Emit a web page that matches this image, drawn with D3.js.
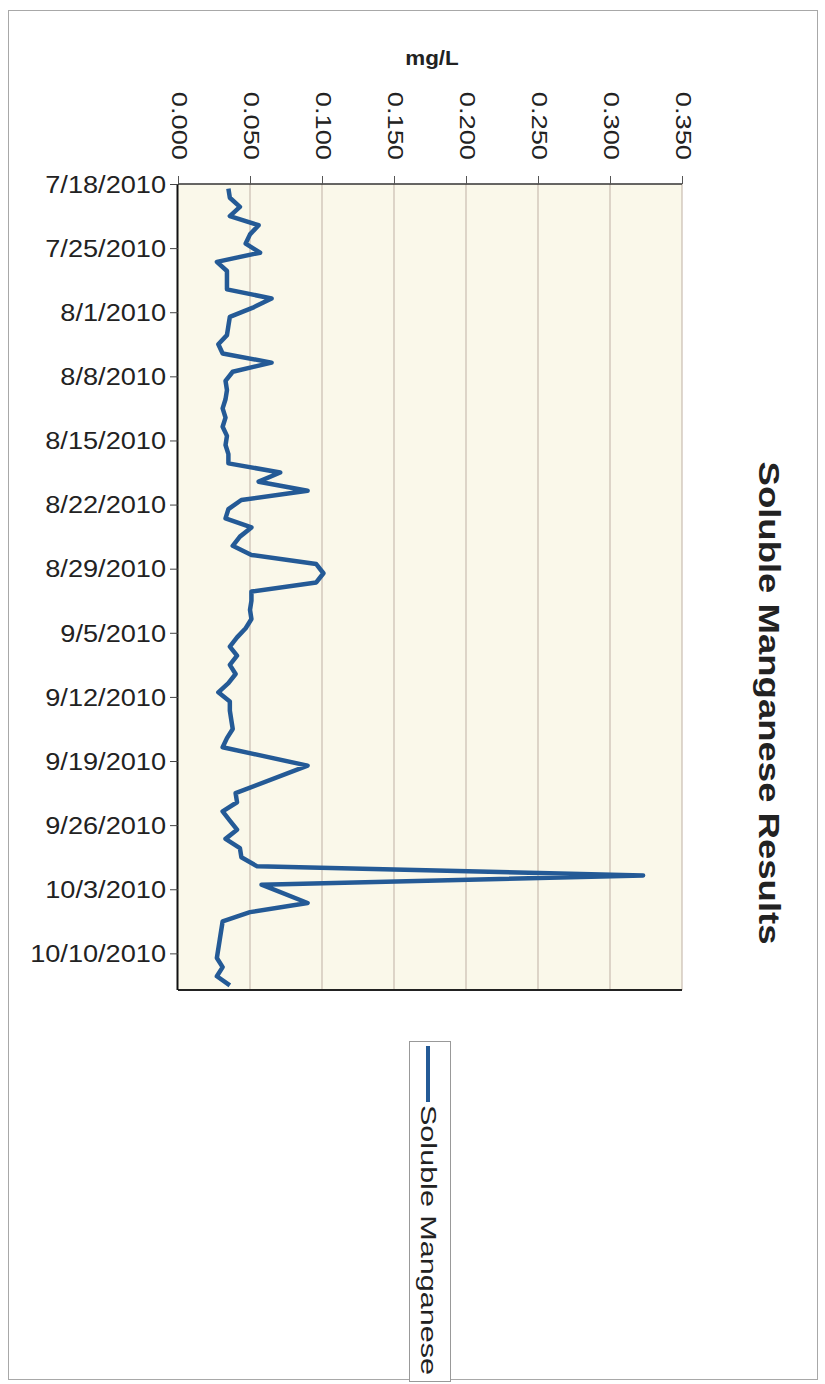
<!DOCTYPE html>
<html>
<head>
<meta charset="utf-8">
<script src="https://cdn.jsdelivr.net/npm/d3@7"></script>
<style>
  html, body { margin: 0; padding: 0; background: #ffffff; }
  svg { display: block; font-family: "Liberation Sans", Arial, sans-serif; }
</style>
</head>
<body>
<svg id="chart" width="825" height="1384"></svg>
<script>
// ---- data ----
const title = "Soluble Manganese Results";
const valueAxisTitle = "mg/L";
const seriesName = "Soluble Manganese";
const dates = [
  "2010-07-18","2010-07-19","2010-07-20","2010-07-21","2010-07-22","2010-07-23","2010-07-24","2010-07-25",
  "2010-07-26","2010-07-27","2010-07-28","2010-07-29","2010-07-30","2010-07-31","2010-08-01","2010-08-02",
  "2010-08-03","2010-08-04","2010-08-05","2010-08-06","2010-08-07","2010-08-08","2010-08-09","2010-08-10",
  "2010-08-11","2010-08-12","2010-08-13","2010-08-14","2010-08-15","2010-08-16","2010-08-17","2010-08-18",
  "2010-08-19","2010-08-20","2010-08-21","2010-08-22","2010-08-23","2010-08-24","2010-08-25","2010-08-26",
  "2010-08-27","2010-08-28","2010-08-29","2010-08-30","2010-08-31","2010-09-01","2010-09-02","2010-09-03",
  "2010-09-04","2010-09-05","2010-09-06","2010-09-07","2010-09-08","2010-09-09","2010-09-10","2010-09-11",
  "2010-09-12","2010-09-13","2010-09-14","2010-09-15","2010-09-16","2010-09-17","2010-09-19","2010-09-22",
  "2010-09-23","2010-09-24","2010-09-25","2010-09-26","2010-09-27","2010-09-28","2010-09-29","2010-09-30",
  "2010-10-01","2010-10-02","2010-10-04","2010-10-05","2010-10-06","2010-10-08","2010-10-10","2010-10-11",
  "2010-10-12","2010-10-13"
];
const values = [
  0.035,0.036,0.043,0.036,0.056,0.050,0.047,0.057,
  0.027,0.034,0.034,0.034,0.065,0.052,0.036,0.035,
  0.034,0.028,0.031,0.065,0.038,0.033,0.034,0.033,
  0.031,0.033,0.031,0.034,0.033,0.035,0.035,0.071,
  0.056,0.090,0.044,0.035,0.033,0.051,0.043,0.038,
  0.051,0.096,0.101,0.096,0.051,0.051,0.050,0.051,
  0.047,0.041,0.036,0.041,0.036,0.040,0.035,0.028,
  0.036,0.036,0.037,0.038,0.034,0.031,0.090,0.040,
  0.041,0.031,0.036,0.041,0.033,0.043,0.044,0.055,
  0.323,0.058,0.090,0.050,0.031,0.029,0.027,0.031,
  0.027,0.036
];
const valueTicks = [0, 0.05, 0.10, 0.15, 0.20, 0.25, 0.30, 0.35];
const dateTicks = ["2010-07-18","2010-07-25","2010-08-01","2010-08-08","2010-08-15","2010-08-22",
  "2010-08-29","2010-09-05","2010-09-12","2010-09-19","2010-09-26","2010-10-03","2010-10-10"];
const dateDomain = ["2010-07-18","2010-10-14"];

// ---- layout ----
const svg = d3.select("#chart");
const plot = {left: 178, right: 682, top: 184, bottom: 990};
const parse = d3.timeParse("%Y-%m-%d");
const x = d3.scaleLinear().domain([0, 0.35]).range([plot.left, plot.right]);
const y = d3.scaleTime().domain(dateDomain.map(parse)).range([plot.top, plot.bottom]);
const lineColor = "#245a96";

// outer chart border
svg.append("rect").attr("x", 8.5).attr("y", 10.5).attr("width", 809).attr("height", 1369)
  .attr("fill", "#fff").attr("stroke", "#a8a8a8").attr("stroke-width", 1);

// plot area
svg.append("rect").attr("x", plot.left).attr("y", plot.top)
  .attr("width", plot.right - plot.left).attr("height", plot.bottom - plot.top)
  .attr("fill", "#faf8ea");

// gridlines
svg.append("g").selectAll("line").data(valueTicks.slice(1)).join("line")
  .attr("x1", d => x(d)).attr("x2", d => x(d))
  .attr("y1", plot.top).attr("y2", plot.bottom)
  .attr("stroke", "#c9bcb0").attr("stroke-width", 1.2);

// plot border (top/bottom dark)
svg.append("line").attr("x1", plot.left).attr("x2", plot.right).attr("y1", plot.top).attr("y2", plot.top)
  .attr("stroke", "#333").attr("stroke-width", 1.5);
svg.append("line").attr("x1", plot.left).attr("x2", plot.right).attr("y1", plot.bottom).attr("y2", plot.bottom)
  .attr("stroke", "#222").attr("stroke-width", 2);

// value axis on top
const xAxis = d3.axisTop(x).tickValues(valueTicks).tickFormat(d3.format(".3f")).tickSize(8).tickPadding(0);
const gx = svg.append("g").attr("transform", `translate(0,${plot.top})`).call(xAxis);
gx.select(".domain").remove();
gx.selectAll(".tick line").attr("stroke", "#555");
gx.selectAll(".tick text")
  .attr("font-size", 22).attr("fill", "#222")
  .attr("text-anchor", "end").attr("dominant-baseline", "central")
  .attr("transform", "translate(1,-24) rotate(90)")
  .attr("x", 0).attr("y", 0).attr("dy", null)
  .each(function() { const l = this.getComputedTextLength(); this.setAttribute("textLength", l * 1.24); this.setAttribute("lengthAdjust", "spacingAndGlyphs"); });

// date axis on left
const yAxis = d3.axisLeft(y).tickValues(dateTicks.map(parse)).tickFormat(d3.timeFormat("%-m/%-d/%Y")).tickSize(8).tickPadding(4);
const gy = svg.append("g").attr("transform", `translate(${plot.left},0)`).call(yAxis);
gy.select(".domain").attr("stroke", "#111").attr("stroke-width", 2).attr("d", `M-0.5,${plot.top}V${plot.bottom}`);
gy.selectAll(".tick line").attr("stroke", "#444");
gy.selectAll(".tick text")
  .attr("font-size", 23).attr("fill", "#222").attr("dy", "0.36em")
  .each(function() { const l = this.getComputedTextLength(); this.setAttribute("textLength", l * 1.18); this.setAttribute("lengthAdjust", "spacingAndGlyphs"); });

// data line (points centred in each day's interval)
const pts = dates.map((d, i) => ({date: d3.timeHour.offset(parse(d), 12), v: values[i]}));
svg.append("path").datum(pts)
  .attr("fill", "none").attr("stroke", lineColor).attr("stroke-width", 4.5)
  .attr("stroke-linejoin", "round").attr("stroke-linecap", "butt")
  .attr("d", d3.line().x(d => x(d.v)).y(d => y(d.date)));

// value axis title
const t1 = svg.append("text").attr("x", 432).attr("y", 65).attr("text-anchor", "middle")
  .attr("font-size", 20).attr("font-weight", "bold").attr("fill", "#222").text(valueAxisTitle);
t1.attr("textLength", t1.node().getComputedTextLength() * 1.12).attr("lengthAdjust", "spacingAndGlyphs");

// chart title (rotated)
const t2 = svg.append("text").attr("transform", "translate(769,703) rotate(90)")
  .attr("text-anchor", "middle").attr("dominant-baseline", "central")
  .attr("font-size", 29).attr("font-weight", "bold").attr("fill", "#222").text(title);
t2.attr("textLength", 483).attr("lengthAdjust", "spacingAndGlyphs");

// legend (rotated)
const leg = svg.append("g");
leg.append("rect").attr("x", 409.5).attr("y", 1041.5).attr("width", 41).attr("height", 340)
  .attr("fill", "#fff").attr("stroke", "#999").attr("stroke-width", 1);
leg.append("line").attr("x1", 428).attr("x2", 428).attr("y1", 1046).attr("y2", 1102)
  .attr("stroke", lineColor).attr("stroke-width", 4);
const t3 = leg.append("text").attr("transform", "translate(421,1105) rotate(90)")
  .attr("text-anchor", "start").attr("dy", "-0.02em")
  .attr("font-size", 22).attr("fill", "#222").text(seriesName);
t3.attr("textLength", 270).attr("lengthAdjust", "spacingAndGlyphs");
</script>
</body>
</html>
